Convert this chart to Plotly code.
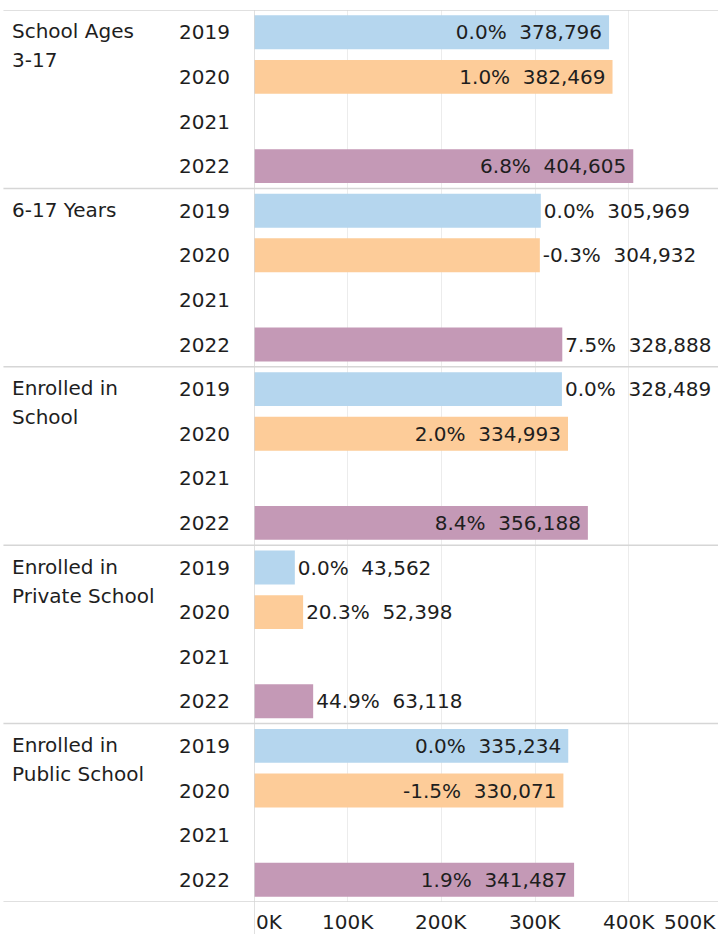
import plotly.graph_objects as go

# ---------------- data ----------------
group_lines = [["School Ages", "3-17"], ["6-17 Years"], ["Enrolled in", "School"],
               ["Enrolled in", "Private School"], ["Enrolled in", "Public School"]]
groups = ["School Ages 3-17", "6-17 Years", "Enrolled in School",
          "Enrolled in Private School", "Enrolled in Public School"]
years = ["2019", "2020", "2021", "2022"]

values_2019 = [378796, 305969, 328489, 43562, 335234]
values_2020 = [382469, 304932, 334993, 52398, 330071]
values_2021 = [None, None, None, None, None]
values_2022 = [404605, 328888, 356188, 63118, 341487]

pct_2019 = ["0.0%", "0.0%", "0.0%", "0.0%", "0.0%"]
pct_2020 = ["1.0%", "-0.3%", "2.0%", "20.3%", "-1.5%"]
pct_2021 = ["", "", "", "", ""]
pct_2022 = ["6.8%", "7.5%", "8.4%", "44.9%", "1.9%"]

# label drawn inside the bar end (True) or after it (False)
inside_2019 = [True, False, False, False, True]
inside_2020 = [True, False, True, False, True]
inside_2021 = [False, False, False, False, False]
inside_2022 = [True, False, True, False, True]

tick_values = [0, 100000, 200000, 300000, 400000, 500000]
tick_labels = ["0K", "100K", "200K", "300K", "400K", "500K"]

colors = {"2019": "#b5d6ee", "2020": "#fdcc99", "2021": "#cccccc", "2022": "#c499b6"}
TEXT = "#1e1e1e"
FONT = "DejaVu Sans"
FS = 20

series = {
    "2019": (values_2019, pct_2019, inside_2019),
    "2020": (values_2020, pct_2020, inside_2020),
    "2021": (values_2021, pct_2021, inside_2021),
    "2022": (values_2022, pct_2022, inside_2022),
}

def row_key(g, y):
    return f"{g}|{y}"

rows = [row_key(g, y) for g in groups for y in years]

fig = go.Figure()
for yr in years:
    vals, pcts, ins = series[yr]
    texts = []
    for v, p, i in zip(vals, pcts, ins):
        if v is None:
            texts.append("")
        else:
            texts.append(f"{p}\u00a0\u00a0{v:,}" + ("\u2009" if i else ""))
    fig.add_trace(go.Bar(
        x=vals,
        y=[row_key(g, yr) for g in groups],
        orientation="h",
        marker=dict(color=colors[yr], line=dict(width=0)),
        text=texts,
        textposition=["inside" if i else "outside" for i in ins],
        insidetextanchor="end",
        textfont=dict(family=FONT, size=FS, color=TEXT),
        insidetextfont=dict(family=FONT, size=FS, color=TEXT),
        outsidetextfont=dict(family=FONT, size=FS, color=TEXT),
        constraintext="none",
        cliponaxis=False,
        showlegend=False,
        hoverinfo="skip",
    ))

annotations = []
# year labels
for g in groups:
    for yr in years:
        annotations.append(dict(
            x=-0.048, xref="paper", y=row_key(g, yr), yref="y",
            text=yr, showarrow=False, xanchor="right", yanchor="middle",
            font=dict(family=FONT, size=FS, color=TEXT)))
# group labels
for g, lines in zip(groups, group_lines):
    for i, line in enumerate(lines):
        annotations.append(dict(
            x=-0.525, xref="paper", y=row_key(g, years[0]), yref="y",
            yshift=-29 * i + 1,
            text=line, showarrow=False, xanchor="left", yanchor="middle",
            font=dict(family=FONT, size=FS, color=TEXT)))
# x tick labels
for tv, tl in zip(tick_values, tick_labels):
    if tv == 0:
        xa = "left"
    elif tv == tick_values[-1]:
        continue
    else:
        xa = "center"
    annotations.append(dict(
        x=tv, xref="x", y=0, yref="paper", yshift=-20,
        text=tl, showarrow=False, xanchor=xa, yanchor="middle",
        font=dict(family=FONT, size=FS, color=TEXT)))
annotations.append(dict(
    x=1, xref="paper", y=0, yref="paper", yshift=-20,
    text=tick_labels[-1], showarrow=False, xanchor="right", yanchor="middle",
    font=dict(family=FONT, size=FS, color=TEXT)))

shapes = []
n = len(years)
for k in range(len(groups) + 1):
    yb = k * n - 0.5
    shapes.append(dict(type="line", xref="paper", yref="y", x0=-0.54, x1=1,
                       y0=yb, y1=yb, line=dict(color="#d6d6d6", width=1.5)))
shapes.append(dict(type="line", xref="x", yref="paper", x0=0, x1=0, y0=-0.04, y1=1,
                   line=dict(color="#d6d6d6", width=1.5)))

fig.update_layout(
    width=718, height=934,
    margin=dict(l=254, r=0, t=10, b=32),
    paper_bgcolor="white", plot_bgcolor="white",
    bargap=0.24,
    xaxis=dict(range=[0, 495000], tickvals=tick_values[:-1], showticklabels=False,
               showgrid=True, gridcolor="#ececec", gridwidth=1, zeroline=False,
               showline=False, fixedrange=True),
    yaxis=dict(categoryorder="array", categoryarray=rows, range=[len(rows) - 0.5, -0.5],
               showticklabels=False, showgrid=False, zeroline=False, fixedrange=True),
    annotations=annotations,
    shapes=shapes,
    font=dict(family=FONT, size=FS, color=TEXT),
)

fig.write_html(
    "out.html",
    config={"displayModeBar": False},
    post_script="document.body.style.margin='0';document.body.style.overflow='hidden';",
)
